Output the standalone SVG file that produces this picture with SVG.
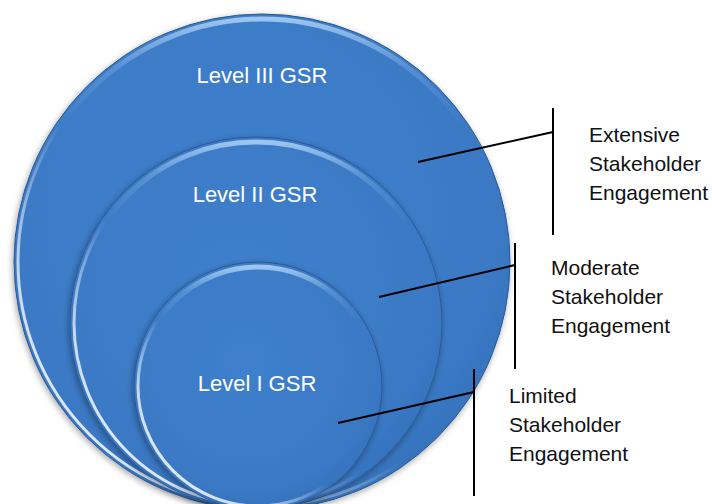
<svg xmlns="http://www.w3.org/2000/svg" width="712" height="504" viewBox="0 0 712 504">
  <style>
    .disc { fill: url(#discFill); stroke: #2a5a92; stroke-width: 1; }
    .rimLow { fill: none; stroke: url(#rimLow); stroke-width: 3; }
    .rimTop { fill: none; stroke: url(#rimTop); stroke-width: 5; }
    .inner { font-family: "Liberation Sans", "Open Sans", sans-serif; font-size: 22px; fill: #ffffff; text-anchor: middle; }
    .lbl { font-family: "Liberation Sans", "Open Sans", sans-serif; font-size: 21px; fill: #111111; }
    .conn line { stroke: #000000; stroke-width: 2; }
  </style>
  <defs>
    <radialGradient id="discFill" cx="0.45" cy="0.4" r="0.65">
      <stop offset="0" stop-color="#3f80cc"/>
      <stop offset="0.8" stop-color="#3b79c5"/>
      <stop offset="1" stop-color="#3470ba"/>
    </radialGradient>
    <linearGradient id="rimLow" x1="0.05" y1="0.95" x2="0.6" y2="0.4">
      <stop offset="0" stop-color="#ffffff" stop-opacity="0.95"/>
      <stop offset="0.35" stop-color="#ffffff" stop-opacity="0.7"/>
      <stop offset="0.7" stop-color="#ffffff" stop-opacity="0"/>
      <stop offset="1" stop-color="#ffffff" stop-opacity="0"/>
    </linearGradient>
    <linearGradient id="rimTop" x1="0" y1="0" x2="0" y2="1">
      <stop offset="0" stop-color="#a6cdf5" stop-opacity="0.9"/>
      <stop offset="0.1" stop-color="#a6cdf5" stop-opacity="0.25"/>
      <stop offset="0.22" stop-color="#a6cdf5" stop-opacity="0"/>
      <stop offset="1" stop-color="#a6cdf5" stop-opacity="0"/>
    </linearGradient>
    <filter id="shadow" x="-10%" y="-10%" width="120%" height="120%">
      <feDropShadow dx="-1" dy="2" stdDeviation="3" flood-color="#000000" flood-opacity="0.35"/>
    </filter>
  </defs>

  <rect width="712" height="504" fill="#ffffff"/>

  <g id="level3">
    <circle class="disc" cx="262" cy="262" r="248" filter="url(#shadow)"/>
    <circle class="rimTop" cx="262" cy="262" r="243"/>
    <circle class="rimLow" cx="262" cy="262" r="244"/>
    <text class="inner" x="262" y="83">Level III GSR</text>
  </g>

  <g id="level2">
    <circle class="disc" cx="256" cy="323" r="186" filter="url(#shadow)"/>
    <circle class="rimTop" cx="256" cy="323" r="181"/>
    <circle class="rimLow" cx="256" cy="323" r="182"/>
    <text class="inner" x="255" y="202">Level II GSR</text>
  </g>

  <g id="level1">
    <circle class="disc" cx="258" cy="386" r="124" filter="url(#shadow)"/>
    <circle class="rimTop" cx="258" cy="386" r="119"/>
    <circle class="rimLow" cx="258" cy="386" r="120"/>
    <text class="inner" x="257" y="391">Level I GSR</text>
  </g>

  <g id="connectors" class="conn">
    <line x1="553" y1="108" x2="553" y2="235"/>
    <line x1="418" y1="162" x2="553" y2="132"/>
    <line x1="515" y1="243" x2="515" y2="369"/>
    <line x1="379" y1="297" x2="515" y2="265"/>
    <line x1="474" y1="369" x2="474" y2="496"/>
    <line x1="338" y1="423" x2="474" y2="392"/>
  </g>

  <g id="label-extensive">
    <text class="lbl" x="589" y="142">Extensive</text>
    <text class="lbl" x="589" y="171">Stakeholder</text>
    <text class="lbl" x="589" y="200">Engagement</text>
  </g>
  <g id="label-moderate">
    <text class="lbl" x="551" y="275">Moderate</text>
    <text class="lbl" x="551" y="304">Stakeholder</text>
    <text class="lbl" x="551" y="333">Engagement</text>
  </g>
  <g id="label-limited">
    <text class="lbl" x="509" y="403">Limited</text>
    <text class="lbl" x="509" y="432">Stakeholder</text>
    <text class="lbl" x="509" y="461">Engagement</text>
  </g>
</svg>
